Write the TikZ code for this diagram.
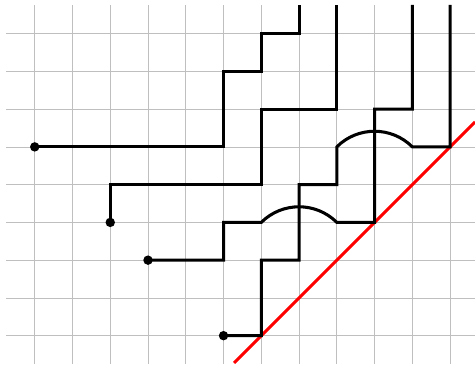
\documentclass[tikz,border=0pt]{standalone}
\usepackage{xcolor}
\usepackage{tikz}
\usetikzlibrary{positioning}

\begin{document}
\begin{tikzpicture}[gridline/.style={draw=black!25, line width=0.5pt},
    wire/.style={draw=black, line width=2.3pt, line join=miter},
    diag/.style={draw=red, line width=2.3pt},
    pin/.style={circle, fill=black, inner sep=0pt, minimum size=0.25cm}]
  \useasboundingbox (-0.92,-0.8) rectangle (11.66,8.89);
  % grid
  \foreach \x in {0,...,11}
    \draw[gridline] (\x,-0.75) -- (\x,8.76);
  \foreach \y in {0,...,8}
    \draw[gridline] (-0.75,\y) -- (11.66,\y);
  % line y = x - 6
  \coordinate (d0) at (5.28,-0.72);
  \coordinate (d1) at (11.66,5.66);
  \draw[diag] (d0) -- (d1);
  % start points and top ends
  \node[pin] (a) at (0,5) {};
  \node[pin] (b) at (2,3) {};
  \node[pin] (c) at (3,2) {};
  \node[pin] (e) at (5,0) {};
  \coordinate (ta) at (7,8.76);
  \coordinate (tb) at (8,8.76);
  \coordinate (tc) at (10,8.76);
  \coordinate (te) at (11,8.76);
  % wires
  \draw[wire] (a.center) -- ++(5,0) -- ++(0,2) -- ++(1,0) -- ++(0,1) -- ++(1,0) -- (ta);
  \draw[wire] (b.center) -- ++(0,1) -- ++(4,0) -- ++(0,2) -- ++(2,0) -- (tb);
  \draw[wire] (c.center) -- ++(2,0) -- ++(0,1) -- ++(1,0) to[bend left=45] ++(2,0) -- ++(1,0) -- ++(0,3) -- ++(1,0) -- (tc);
  \draw[wire] (e.center) -- ++(1,0) -- ++(0,2) -- ++(1,0) -- ++(0,2) -- ++(1,0) -- ++(0,1) to[bend left=45] ++(2,0) -- ++(1,0) -- (te);
\end{tikzpicture}
\end{document}
